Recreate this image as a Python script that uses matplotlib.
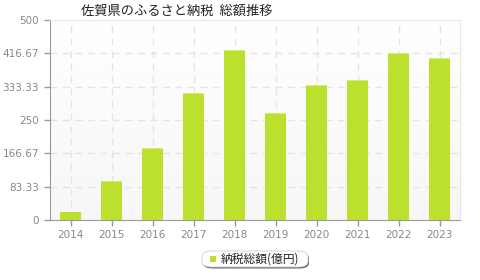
import matplotlib.pyplot as plt
import numpy as np
from matplotlib.colors import LinearSegmentedColormap
from matplotlib.patches import FancyBboxPatch

plt.rcParams['font.family'] = ['Noto Sans CJK JP', 'DejaVu Sans']

years = ["2014", "2015", "2016", "2017", "2018", "2019", "2020", "2021", "2022", "2023"]
totals = [21, 98, 179, 317, 425, 267, 337, 350, 418, 405]
yticks = [0, 83.33, 166.67, 250, 333.33, 416.67, 500]
ytick_labels = ["0", "83.33", "166.67", "250", "333.33", "416.67", "500"]
title = "佐賀県のふるさと納税  総額推移"
series_name = "納税総額(億円)"

bar_color = "#bce02e"
grid_color = "#e4e4e4"
axis_color = "#999999"
text_color = "#888888"

fig = plt.figure(figsize=(4.8, 2.8), dpi=100)
ax = fig.add_axes([50 / 480, 60 / 280, 410 / 480, 200 / 280])

# soft vertical gradient for plot background
grad = np.linspace(0, 1, 256).reshape(-1, 1)
bg = LinearSegmentedColormap.from_list("bg", ["#f7f7f7", "#ffffff"])
ax.imshow(grad, extent=[-0.5, 9.5, 0, 500], aspect="auto", cmap=bg, origin="lower", zorder=0)

x = np.arange(len(years))
ax.bar(x, totals, width=0.49, color=bar_color, zorder=3, edgecolor="none")
ax.bar(x, [2] * len(years), bottom=np.array(totals) - 2, width=0.49, color="#d4ec7a", zorder=3, edgecolor="none")

ax.set_xlim(-0.5, 9.5)
ax.set_ylim(0, 500)
ax.set_yticks(yticks)
ax.set_yticklabels(ytick_labels)
ax.set_xticks(x)
ax.set_xticklabels(years)

for yv in yticks[1:-1]:
    ax.axhline(yv, color=grid_color, lw=1, ls=(0, (5, 4)), zorder=1)
for xv in x:
    ax.axvline(xv, color=grid_color, lw=1, ls=(0, (5, 4)), zorder=1)

ax.tick_params(axis="both", colors=axis_color, labelcolor=text_color, labelsize=7.5, length=4, width=1)
ax.tick_params(axis="y", pad=4)
ax.tick_params(axis="x", pad=3)
for lbl in ax.get_xticklabels() + ax.get_yticklabels():
    lbl.set_family("DejaVu Sans")

ax.spines["left"].set_color(axis_color)
ax.spines["bottom"].set_color(axis_color)
ax.spines["top"].set_color("#e6e6e6")
ax.spines["right"].set_color("#e6e6e6")

fig.text(81 / 480, 1 - 11 / 280, title, fontsize=9.5, va="center", ha="left", color="#222222")

# legend box with shadow
shadow = FancyBboxPatch((203 / 480, 1 - 268.5 / 280), 106 / 480, 16 / 280,
                        boxstyle="round,pad=0,rounding_size=0.02", transform=fig.transFigure,
                        facecolor="#5c6478", edgecolor="none", zorder=1)
box = FancyBboxPatch((202 / 480, 1 - 267 / 280), 106 / 480, 16 / 280,
                     boxstyle="round,pad=0,rounding_size=0.02", transform=fig.transFigure,
                     facecolor="white", edgecolor="#d0d0d0", lw=0.6, zorder=2)
fig.patches.extend([shadow, box])
fig.patches.append(plt.Rectangle((210 / 480, 1 - 262 / 280), 6 / 480, 6 / 280,
                                 transform=fig.transFigure, facecolor=bar_color, edgecolor="none", zorder=3))
fig.text(221 / 480, 1 - 259 / 280, series_name, fontsize=8.5, va="center", ha="left", color="#222222", zorder=4)

fig.savefig("out.png", dpi=100)
